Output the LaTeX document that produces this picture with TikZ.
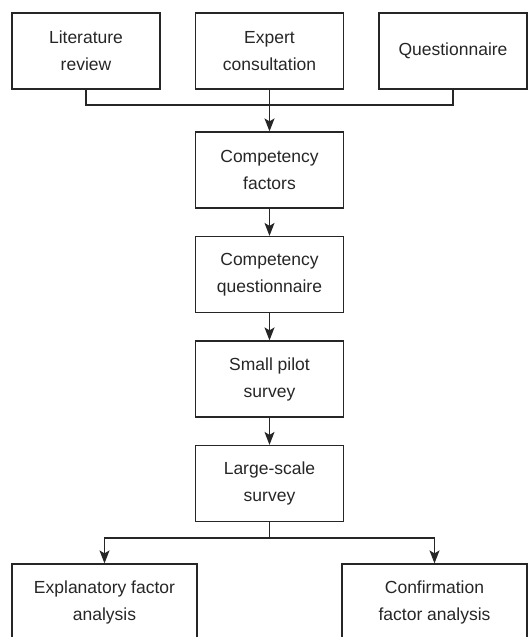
\documentclass[tikz,border=0pt]{standalone}
\usepackage{fontspec}
\setmainfont{Liberation Sans}
\usetikzlibrary{arrows.meta}

\begin{document}
\begin{tikzpicture}[x=1pt, y=1pt, line width=1.2pt, draw=black!85,
    box/.style={draw=black!85, align=center, inner sep=0pt, minimum width=148pt, minimum height=76pt,
        text=black!85, font=\fontsize{17.5}{27}\selectfont},
    wide/.style={box, minimum width=185pt},
    arr/.style={-{Stealth[length=13pt, width=10pt, inset=3pt]}}]
    \useasboundingbox (0, 0) rectangle (530, 637);
    \clip (0, 0) rectangle (530, 637);
    \node[box] (lit) at (86, 586) {Literature\\review};
    \node[box] (exp) at (269.5, 586) {Expert\\consultation};
    \node[box] (que) at (453, 586) {Questionnaire};
    \node[box] (fac) at (269.5, 467) {Competency\\factors};
    \node[box] (cq) at (269.5, 362.5) {Competency\\questionnaire};
    \node[box] (pilot) at (269.5, 258) {Small pilot\\survey};
    \node[box] (large) at (269.5, 153.5) {Large-scale\\survey};
    \node[wide] (efa) at (104.5, 35) {Explanatory factor\\analysis};
    \node[wide] (cfa) at (434.5, 35) {Confirmation\\factor analysis};
    \coordinate (top) at (269.5, 532);
    \coordinate (split) at (269.5, 99);
    \draw (lit) |- (top) -| (que);
    \draw[arr] (exp) -- (fac);
    \draw[arr] (fac) -- (cq);
    \draw[arr] (cq) -- (pilot);
    \draw[arr] (pilot) -- (large);
    \draw (large) -- (split);
    \draw[arr] (split) -| (efa);
    \draw[arr] (split) -| (cfa);
\end{tikzpicture}
\end{document}
